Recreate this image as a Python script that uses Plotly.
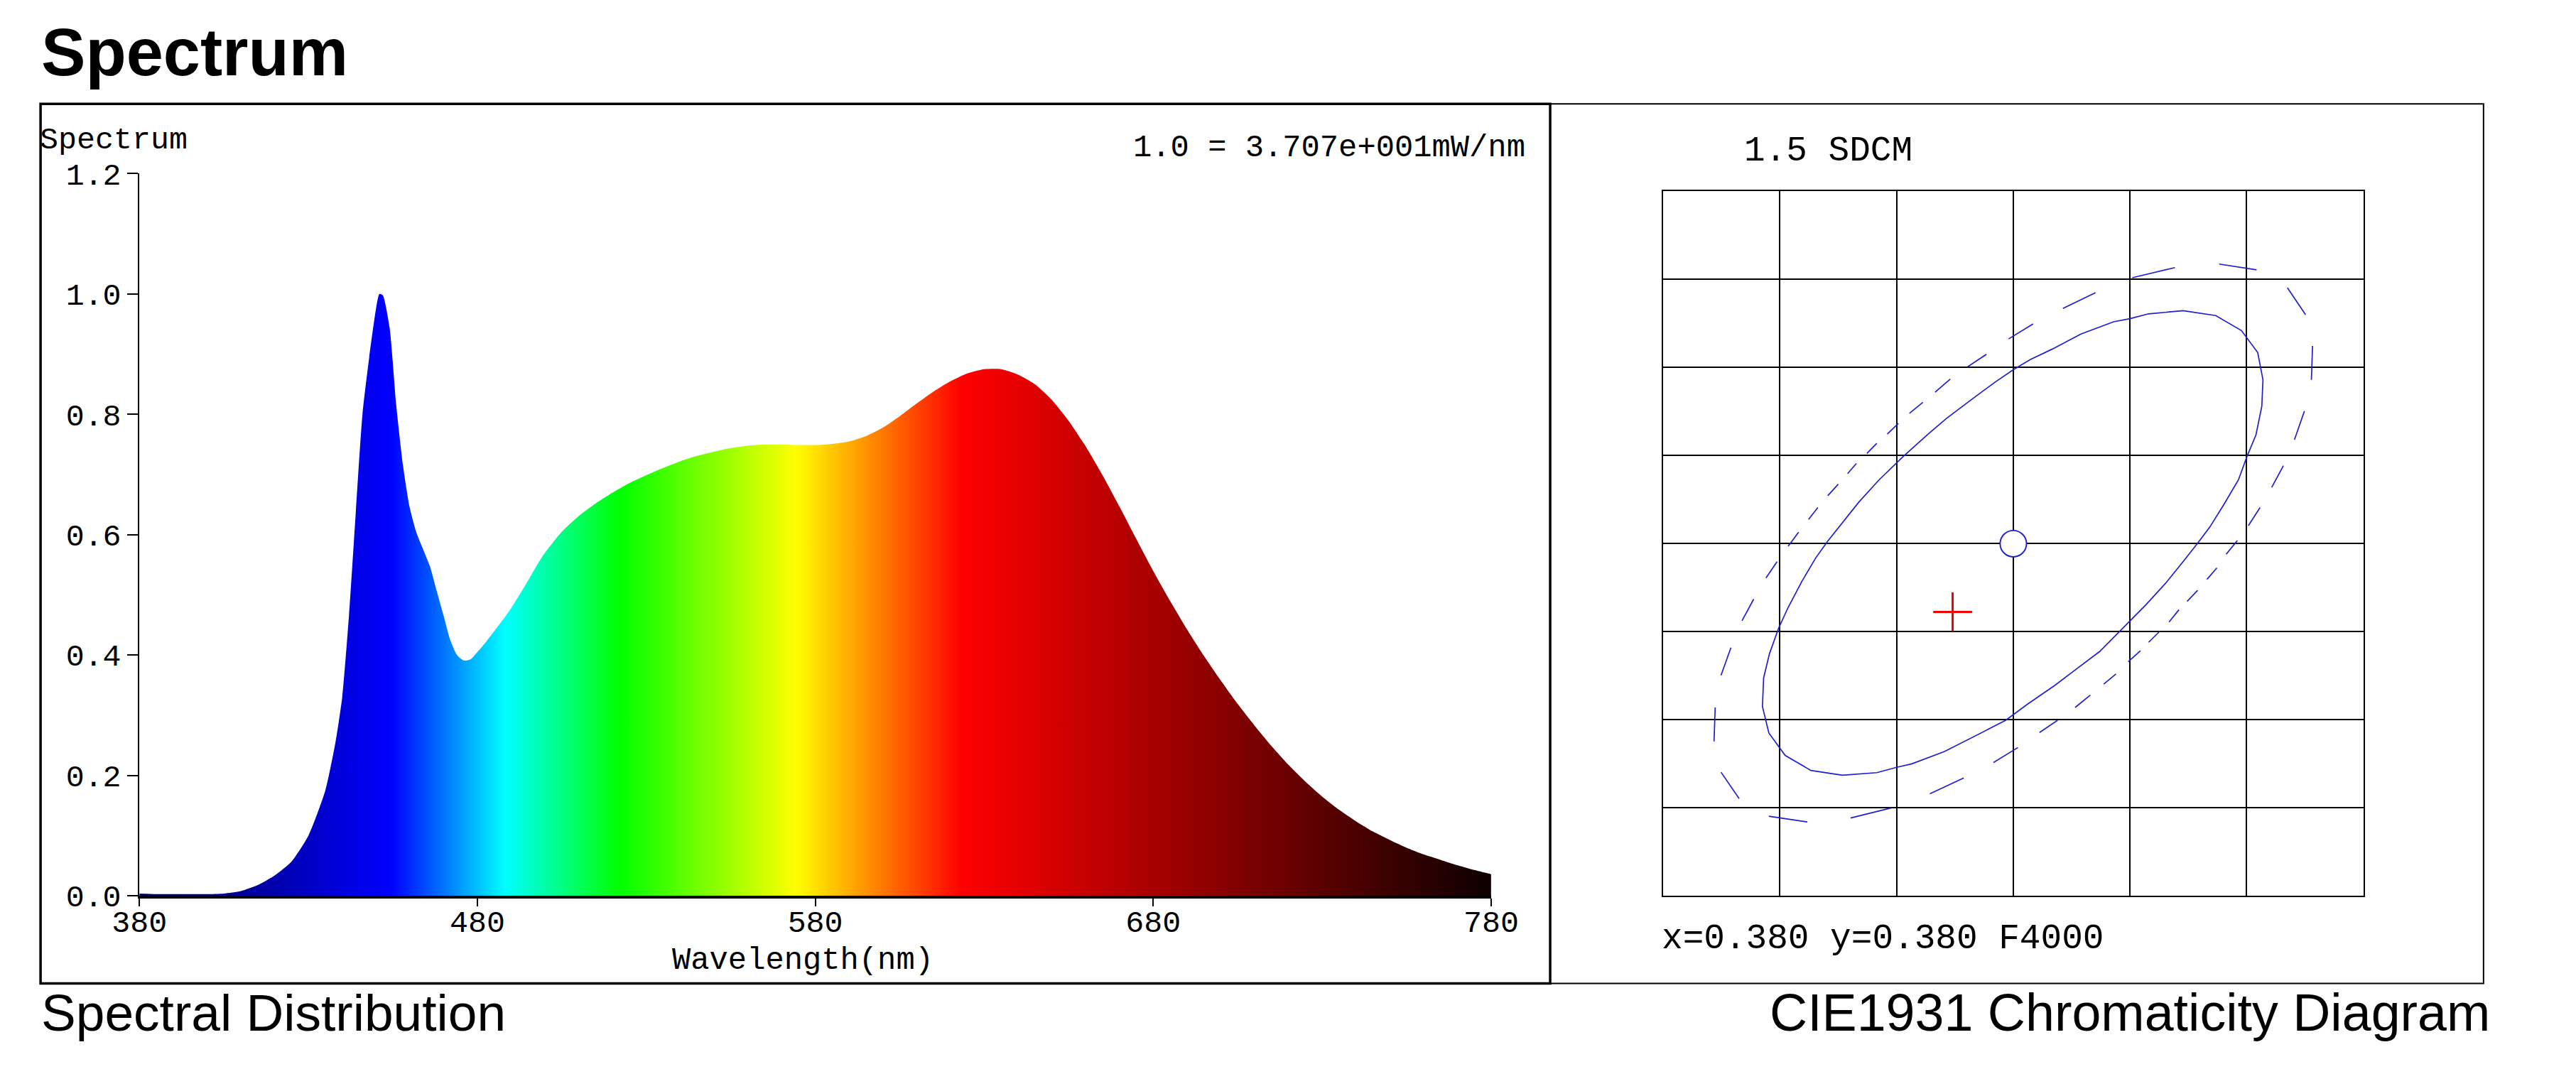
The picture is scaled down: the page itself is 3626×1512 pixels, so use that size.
import plotly.graph_objects as go

# ---------------- data ----------------
WAVELENGTH = [380, 385, 390, 395, 400, 405, 410, 415, 420, 425, 430, 435, 438, 440, 442,
              444, 446, 448, 450, 451, 452, 454, 456, 458, 460, 462, 464, 466, 468, 470,
              472, 474, 476, 478, 480, 482, 485, 488, 490, 493, 495, 498, 500, 505, 510,
              515, 520, 525, 530, 535, 540, 545, 550, 555, 560, 565, 570, 575, 580, 585,
              590, 595, 600, 605, 610, 615, 620, 625, 630, 635, 640, 645, 650, 655, 660,
              665, 670, 675, 680, 685, 690, 695, 700, 705, 710, 715, 720, 725, 730, 735,
              740, 745, 750, 755, 760, 765, 770, 775, 780]
RELATIVE_POWER = [0.004, 0.003, 0.003, 0.003, 0.003, 0.004, 0.008, 0.018, 0.034, 0.057, 0.100,
                  0.175, 0.255, 0.330, 0.465, 0.635, 0.800, 0.895, 0.975, 1.000, 0.998, 0.945,
                  0.815, 0.715, 0.645, 0.603, 0.575, 0.547, 0.506, 0.466, 0.425, 0.400, 0.391,
                  0.393, 0.405, 0.418, 0.440, 0.462, 0.478, 0.505, 0.524, 0.553, 0.570, 0.605,
                  0.631, 0.652, 0.670, 0.686, 0.699, 0.711, 0.722, 0.731, 0.738, 0.744, 0.748,
                  0.750, 0.750, 0.749, 0.749, 0.751, 0.755, 0.764, 0.778, 0.797, 0.818, 0.838,
                  0.855, 0.868, 0.875, 0.875, 0.866, 0.850, 0.824, 0.789, 0.747, 0.699, 0.647,
                  0.593, 0.540, 0.490, 0.443, 0.399, 0.358, 0.319, 0.283, 0.249, 0.218, 0.190,
                  0.165, 0.143, 0.124, 0.107, 0.093, 0.080, 0.069, 0.060, 0.051, 0.043, 0.036]
X_TICKS = [380, 480, 580, 680, 780]
Y_TICKS = [0.0, 0.2, 0.4, 0.6, 0.8, 1.0, 1.2]

# chromaticity (CIE1931 x, y)
TARGET_X, TARGET_Y = [0.380], [0.380]
MEASURED_X, MEASURED_Y = [0.37896], [0.37845]
ELLIPSE_X = [0.38291, 0.38347, 0.38391, 0.38419, 0.38428, 0.38426, 0.38416, 0.38400, 0.38386,
             0.38361, 0.38337, 0.38316, 0.38291, 0.38263, 0.38228, 0.38200, 0.38183, 0.38148,
             0.38109, 0.38071, 0.38025, 0.37987, 0.37955, 0.37913, 0.37882, 0.37826, 0.37800,
             0.37766, 0.37707, 0.37653, 0.37609, 0.37581, 0.37570, 0.37572, 0.37582, 0.37598,
             0.37614, 0.37637, 0.37661, 0.37682, 0.37707, 0.37735, 0.37770, 0.37798, 0.37812,
             0.37854, 0.37885, 0.37931, 0.37969, 0.38000, 0.38029, 0.38067, 0.38116, 0.38172,
             0.38200, 0.38232, 0.38291]
ELLIPSE_Y = [0.38529, 0.38518, 0.38484, 0.38434, 0.38372, 0.38312, 0.38247, 0.38196, 0.38145,
             0.38089, 0.38038, 0.38001, 0.37959, 0.37913, 0.37862, 0.37825, 0.37801, 0.37755,
             0.37716, 0.37678, 0.37636, 0.37599, 0.37577, 0.37549, 0.37528, 0.37500, 0.37492,
             0.37480, 0.37474, 0.37485, 0.37519, 0.37570, 0.37630, 0.37695, 0.37750, 0.37809,
             0.37855, 0.37913, 0.37967, 0.38006, 0.38047, 0.38094, 0.38145, 0.38180, 0.38199,
             0.38249, 0.38284, 0.38330, 0.38367, 0.38395, 0.38418, 0.38442, 0.38476, 0.38504,
             0.38511, 0.38522, 0.38529]
# outer (dashed) ellipse: pairs of dash end points
DASH_X = [0.38204, 0.38277, 0.38353, 0.38417, 0.38470, 0.38501, 0.38513, 0.38511, 0.38499, 0.38482,
          0.38463, 0.38443, 0.38423, 0.38403, 0.38384, 0.38365, 0.38349, 0.38332, 0.38316, 0.38298,
          0.38284, 0.38267, 0.38251, 0.38232, 0.38218, 0.38197, 0.38176, 0.38155, 0.38132, 0.38106,
          0.38076, 0.38045, 0.38008, 0.37966, 0.37915, 0.37857, 0.37791, 0.37721, 0.37647, 0.37581,
          0.37530, 0.37499, 0.37487, 0.37489, 0.37499, 0.37516, 0.37535, 0.37555, 0.37576, 0.37595,
          0.37614, 0.37632, 0.37649, 0.37665, 0.37682, 0.37700, 0.37716, 0.37731, 0.37749, 0.37766,
          0.37784, 0.37803, 0.37822, 0.37845, 0.37866, 0.37892, 0.37922, 0.37954, 0.37992, 0.38034,
          0.38085, 0.38141]
DASH_Y = [0.38604, 0.38627, 0.38635, 0.38622, 0.38581, 0.38520, 0.38449, 0.38372, 0.38301, 0.38236,
          0.38177, 0.38128, 0.38082, 0.38041, 0.38007, 0.37976, 0.37945, 0.37919, 0.37894, 0.37869,
          0.37850, 0.37822, 0.37801, 0.37776, 0.37757, 0.37732, 0.37704, 0.37681, 0.37656, 0.37628,
          0.37599, 0.37571, 0.37537, 0.37503, 0.37468, 0.37432, 0.37400, 0.37377, 0.37368, 0.37381,
          0.37421, 0.37481, 0.37551, 0.37628, 0.37701, 0.37764, 0.37825, 0.37874, 0.37922, 0.37959,
          0.37994, 0.38026, 0.38055, 0.38082, 0.38109, 0.38135, 0.38159, 0.38182, 0.38205, 0.38228,
          0.38249, 0.38273, 0.38296, 0.38321, 0.38344, 0.38374, 0.38402, 0.38430, 0.38465, 0.38499,
          0.38534, 0.38570]
CIE_X_RANGE = [0.374, 0.386]
CIE_Y_RANGE = [0.372, 0.388]
CIE_STEP = 0.002

# spectrum colour gradient stops (nm -> colour)
GRADIENT_NM = [380, 453, 486, 519, 570, 618, 780]
GRADIENT_COLORS = ["rgb(0,0,80)", "rgb(0,0,255)", "rgb(0,255,255)", "rgb(0,255,0)",
                   "rgb(255,255,0)", "rgb(255,0,0)", "rgb(0,0,0)"]

# ---------------- layout helpers ----------------
W, H = 3626, 1512
MONO = "Courier New, Liberation Mono, monospace"
SANS = "Arial, Liberation Sans, sans-serif"
BLUE = "rgb(30,30,210)"
# placement calibration (page pixels of the target picture -> figure pixels)
SX, OX = 1.0234, -47.0
SY, OY = 1.0354, -30.0
FS = 1.03


def px(x):
    return (SX * x + OX) / W


def py(y):
    return 1 - (SY * y + OY) / H


def f(size):
    return round(size * FS, 1)


fig = go.Figure()

lo, hi = GRADIENT_NM[0], GRADIENT_NM[-1]
colorscale = [[(n - lo) / (hi - lo), c] for n, c in zip(GRADIENT_NM, GRADIENT_COLORS)]

fig.add_trace(go.Scatter(
    x=WAVELENGTH, y=RELATIVE_POWER, mode="lines",
    line=dict(width=0, color="rgba(0,0,0,0)", shape="spline", smoothing=0.6),
    fill="tozeroy",
    fillgradient=dict(type="horizontal", colorscale=colorscale, start=lo, stop=hi),
    hoverinfo="skip", showlegend=False, xaxis="x", yaxis="y"))

# dashed outer ellipse
dx, dy = [], []
for i in range(0, len(DASH_X), 2):
    dx += [DASH_X[i], DASH_X[i + 1], None]
    dy += [DASH_Y[i], DASH_Y[i + 1], None]
fig.add_trace(go.Scatter(x=dx, y=dy, mode="lines", line=dict(color=BLUE, width=1.7),
                         showlegend=False, xaxis="x2", yaxis="y2", hoverinfo="skip"))
fig.add_trace(go.Scatter(x=ELLIPSE_X, y=ELLIPSE_Y, mode="lines", line=dict(color=BLUE, width=1.7),
                         showlegend=False, xaxis="x2", yaxis="y2", hoverinfo="skip"))
fig.add_trace(go.Scatter(x=TARGET_X, y=TARGET_Y, mode="markers",
                         marker=dict(symbol="circle", size=f(36), color="white",
                                     line=dict(color=BLUE, width=1.9)),
                         showlegend=False, xaxis="x2", yaxis="y2", hoverinfo="skip"))
fig.add_trace(go.Scatter(x=MEASURED_X, y=MEASURED_Y, mode="markers",
                         marker=dict(symbol="cross-thin", size=f(38),
                                     line=dict(color="rgb(245,0,0)", width=3)),
                         showlegend=False, xaxis="x2", yaxis="y2", hoverinfo="skip"))

tickfont = dict(family=MONO, size=f(42), color="black")
fig.update_layout(
    width=W, height=H, margin=dict(l=0, r=0, t=0, b=0),
    paper_bgcolor="white", plot_bgcolor="white",
    xaxis=dict(domain=[px(195), px(2095)], range=[380, 780], tickvals=X_TICKS,
               ticks="outside", ticklen=11, tickwidth=2, tickcolor="black",
               ticklabelstandoff=-16,
               showline=True, linewidth=4, linecolor="black", showgrid=False,
               zeroline=False, tickfont=tickfont),
    yaxis=dict(domain=[py(1259), py(244)], range=[0, 1.2], tickvals=Y_TICKS,
               tickformat=".1f", ticks="outside", ticklen=15, tickwidth=2, tickcolor="black",
               showline=True, linewidth=2, linecolor="black", showgrid=False,
               zeroline=False, tickfont=tickfont),
    xaxis2=dict(domain=[px(2337), px(3321)], range=CIE_X_RANGE, dtick=CIE_STEP,
                tick0=CIE_X_RANGE[0], showticklabels=False, ticks="", showgrid=True,
                gridcolor="black", gridwidth=2, showline=True, mirror=True,
                linewidth=2, linecolor="black", zeroline=False, anchor="y2"),
    yaxis2=dict(domain=[py(1259), py(269)], range=CIE_Y_RANGE, dtick=CIE_STEP,
                tick0=CIE_Y_RANGE[0], showticklabels=False, ticks="", showgrid=True,
                gridcolor="black", gridwidth=2, showline=True, mirror=True,
                linewidth=2, linecolor="black", zeroline=False, anchor="x2"),
)

fig.add_shape(type="rect", xref="paper", yref="paper", x0=px(56), x1=px(2178),
              y0=py(1382), y1=py(146), line=dict(color="black", width=3.5), layer="below")
fig.add_shape(type="rect", xref="paper", yref="paper", x0=px(2178), x1=px(3490),
              y0=py(1382), y1=py(146), line=dict(color="black", width=2), layer="below")


def note(text, x, y, xanchor, size, family, bold=False):
    fig.add_annotation(text=f"<b>{text}</b>" if bold else text, x=px(x), y=py(y),
                       xref="paper", yref="paper", xanchor=xanchor, yanchor="middle",
                       showarrow=False, font=dict(family=family, size=f(size), color="black"),
                       borderpad=0)


note("Spectrum", 56, 73, "left", 91, SANS, bold=True)
note("Spectrum", 54, 197, "left", 42, MONO)
note("1.0 = 3.707e+001mW/nm", 2144, 208, "right", 42.5, MONO)
note("Wavelength(nm)", 1127, 1350, "center", 42.5, MONO)
note("1.5 SDCM", 2450, 213, "left", 48, MONO)
note("x=0.380 y=0.380 F4000", 2334, 1320, "left", 48, MONO)
note("Spectral Distribution", 56, 1423, "left", 71, SANS)
note("CIE1931 Chromaticity Diagram", 3500, 1423, "right", 71.5, SANS)

fig.write_html("out.html")
